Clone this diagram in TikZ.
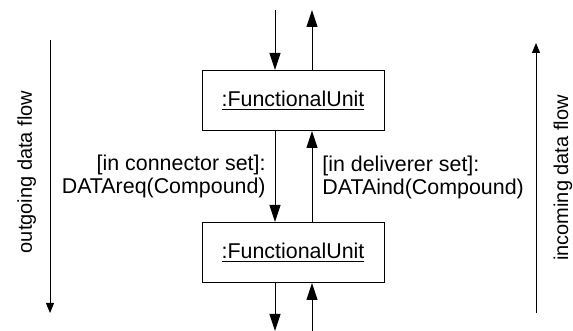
\documentclass[tikz,border=0pt]{standalone}
\usepackage{fontspec}
\setmainfont{Liberation Sans}
\usetikzlibrary{arrows.meta}

\begin{document}
\begin{tikzpicture}[x=0.5pt,y=-0.5pt,
  flow/.style={-{Triangle[length=8.5pt,width=5.5pt]}, line width=0.5pt},
  sideflow/.style={-{Triangle[length=5pt,width=4pt]}, line width=0.5pt},
  unit/.style={draw, line width=0.5pt, minimum width=91pt, minimum height=30pt, inner sep=0pt, font=\fontsize{10.7}{12}\selectfont},
  msg/.style={inner sep=0pt, font=\fontsize{10.7}{11.5}\selectfont},
  side/.style={inner sep=0pt, rotate=90, anchor=base, font=\fontsize{10}{12}\selectfont}]
\useasboundingbox (0,0) rectangle (573,331);

% functional units
\node[unit] (top) at (293,100.5) {\underline{:FunctionalUnit}};
\node[unit] (bot) at (293,252.5) {\underline{:FunctionalUnit}};

% free ends
\coordinate (inTop) at (275,10);
\coordinate (outTop) at (312,10);
\coordinate (outBot) at (275,331);
\coordinate (inBot) at (312,331);

\draw[flow] (inTop) -- (inTop |- top.north);
\draw[flow] (outTop |- top.north) -- (outTop);
\draw[flow] (inTop |- top.south) -- (inTop |- bot.north);
\draw[flow] (outTop |- bot.north) -- (outTop |- top.south);
\draw[flow] (outBot |- bot.south) -- (outBot);
\draw[flow] (inBot) -- (inBot |- bot.south);

\node[msg, align=right, anchor=east] (req) at (266,176) {[in connector set]:\\DATAreq(Compound)};
\node[msg, align=left, anchor=west] (ind) at (322,177) {[in deliverer set]:\\DATAind(Compound)};

% data flow direction
\coordinate (outStart) at (50,40);
\coordinate (outEnd) at (50,313);
\coordinate (inStart) at (536,313);
\coordinate (inEnd) at (536,43);
\draw[sideflow] (outStart) -- (outEnd);
\draw[sideflow] (inStart) -- (inEnd);

\node[side] (outLabel) at (32,172) {outgoing data flow};
\node[side] (inLabel) at (568,178) {incoming data flow};
\end{tikzpicture}
\end{document}
